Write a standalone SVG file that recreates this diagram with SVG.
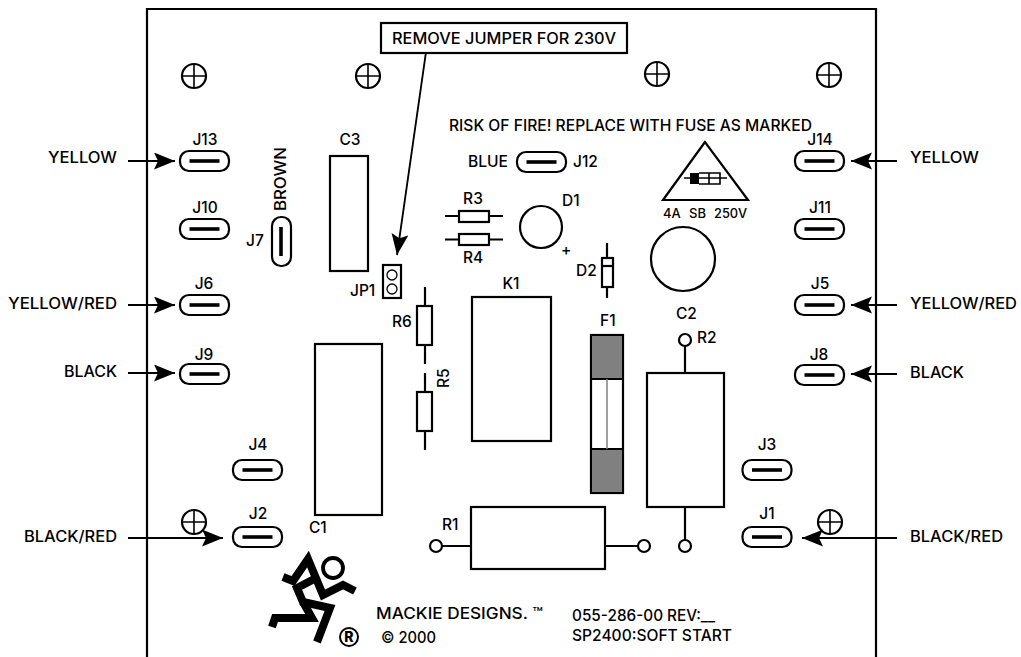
<svg xmlns="http://www.w3.org/2000/svg" width="1021" height="657" viewBox="0 0 1021 657">
<style>
text{font-family:"Inter","Open Sans","Liberation Sans",sans-serif;font-size:15.5px;fill:#000;font-weight:500}
.m{text-anchor:middle}
.o{fill:#fff;stroke:#000;stroke-width:2.2}
.n{fill:none;stroke:#000;stroke-width:2.2}
.t{fill:none;stroke:#000;stroke-width:1.3}
.b{stroke:#000;stroke-width:3.6;stroke-linecap:butt}
.a{stroke:#000;stroke-width:1.8;fill:none;marker-end:url(#h)}
.l{fill:none;stroke:#000;stroke-width:8;stroke-linejoin:miter}
</style>
<defs>
<marker id="h" markerUnits="userSpaceOnUse" markerWidth="22" markerHeight="18" refX="21" refY="8.500" orient="auto"><path d="M0 0 L21 8.500 L0 17 L4 8.500 Z" fill="#000"/></marker>
<g id="pad"><rect x="-24.500" y="-10" width="49" height="20" rx="9" class="o"/><line x1="-15" x2="15" y1="0" y2="0" class="b"/></g>
<g id="scr"><circle r="12" class="n"/><path d="M-12 0H12M0-12V12" class="n" style="stroke-width:1.600"/></g>
</defs>
<rect width="1021" height="657" fill="#fff"/>
<g id="board"><path d="M147 657V9H876V657" fill="none" stroke="#000" stroke-width="2.2"/></g>
<g id="screws"><use href="#scr" x="194" y="76"/><use href="#scr" x="368" y="76"/><use href="#scr" x="657" y="74"/><use href="#scr" x="829" y="75"/><use href="#scr" x="194" y="522"/><use href="#scr" x="830" y="522"/></g>
<g id="connectors">
<path class="a" d="M128 161H175"/><path class="a" d="M128 305H175"/><path class="a" d="M128 373H175"/><path class="a" d="M128 538H223"/>
<path class="a" d="M897 161H851"/><path class="a" d="M897 305H851"/><path class="a" d="M897 374H851"/><path class="a" d="M897 538H802"/>
<path class="a" d="M426 52L397 255"/>
</g>
<g id="callout"><rect x="381" y="23" width="246" height="30" class="o"/><text x="392" y="44" textLength="224" lengthAdjust="spacingAndGlyphs">REMOVE JUMPER FOR 230V</text></g>
<g id="J13"><use href="#pad" x="204.500" y="161"/><text x="205" y="145" class="m">J13</text></g>
<g id="J10"><use href="#pad" x="204.500" y="229"/><text x="205" y="213" class="m">J10</text></g>
<g id="J6"><use href="#pad" x="204.500" y="305"/><text x="204" y="289" class="m">J6</text></g>
<g id="J9"><use href="#pad" x="204.500" y="374"/><text x="204" y="360" class="m">J9</text></g>
<g id="J4"><use href="#pad" x="257.500" y="470"/><text x="258" y="450" class="m">J4</text></g>
<g id="J2"><use href="#pad" x="257.500" y="537"/><text x="258" y="519" class="m">J2</text></g>
<g id="J14"><use href="#pad" x="819.500" y="161"/><text x="820" y="145" class="m">J14</text></g>
<g id="J11"><use href="#pad" x="819.500" y="229"/><text x="820" y="213" class="m">J11</text></g>
<g id="J5"><use href="#pad" x="819.500" y="305"/><text x="820" y="289" class="m">J5</text></g>
<g id="J8"><use href="#pad" x="819.500" y="375"/><text x="819" y="360" class="m">J8</text></g>
<g id="J3"><use href="#pad" x="767" y="470"/><text x="767" y="450" class="m">J3</text></g>
<g id="J1"><use href="#pad" x="767" y="537"/><text x="767" y="519" class="m">J1</text></g>
<g id="J12"><use href="#pad" x="541.500" y="162"/><text x="573" y="167">J12</text><text x="468" y="167" textLength="40" lengthAdjust="spacingAndGlyphs">BLUE</text></g>
<g id="J7"><rect x="272" y="217" width="19" height="49" rx="9" class="o"/><line x1="281" x2="281" y1="227" y2="256" class="b"/><text x="246" y="246">J7</text><text transform="translate(286 211) rotate(-90)" textLength="64" lengthAdjust="spacingAndGlyphs">BROWN</text></g>
<g id="labels">
<text x="48" y="163" textLength="69" lengthAdjust="spacingAndGlyphs">YELLOW</text><text x="8" y="309" textLength="109" lengthAdjust="spacingAndGlyphs">YELLOW/RED</text><text x="64" y="377" textLength="53" lengthAdjust="spacingAndGlyphs">BLACK</text><text x="24" y="542" textLength="93" lengthAdjust="spacingAndGlyphs">BLACK/RED</text>
<text x="910" y="163" textLength="69" lengthAdjust="spacingAndGlyphs">YELLOW</text><text x="910" y="309" textLength="107" lengthAdjust="spacingAndGlyphs">YELLOW/RED</text><text x="910" y="378" textLength="54" lengthAdjust="spacingAndGlyphs">BLACK</text><text x="910" y="542" textLength="93" lengthAdjust="spacingAndGlyphs">BLACK/RED</text>
<text x="449" y="131" textLength="363" lengthAdjust="spacingAndGlyphs">RISK OF FIRE! REPLACE WITH FUSE AS MARKED</text>
</g>
<g id="C3"><rect x="330" y="156" width="38" height="115" class="o"/><text x="350" y="145" class="m">C3</text></g>
<g id="JP1"><rect x="383" y="265" width="18" height="33" class="o"/><circle cx="392" cy="275" r="5" class="t"/><circle cx="392" cy="289" r="5" class="t"/><text x="350" y="296">JP1</text></g>
<g id="R3"><path d="M445 216H503" class="n"/><rect x="459" y="211" width="30" height="11" class="o"/><text x="473" y="204" class="m">R3</text></g>
<g id="R4"><path d="M445 239.500H503" class="n"/><rect x="459" y="234" width="30" height="11" class="o"/><text x="473" y="263" class="m">R4</text></g>
<g id="D1"><circle cx="541" cy="227" r="21" class="o"/><text x="562" y="206">D1</text><text x="561" y="255">+</text></g>
<g id="D2"><path d="M607 243V298" class="n"/><rect x="602" y="258" width="11" height="29" class="o"/><path d="M602 266H613" class="n"/><text x="576" y="276">D2</text></g>
<g id="bigcircle"><circle cx="683" cy="259" r="32" class="o"/></g>
<g id="fuseicon"><path d="M705 142L663 200H748Z" class="n"/><path d="M684 178H727" class="n" style="stroke-width:1.600"/><rect x="690" y="173" width="9" height="11"/><path d="M699 173H720V184H699M709 173V184" class="n" style="stroke-width:1.600"/><text x="663" y="218" style="font-size:13px">4A</text><text x="689" y="218" style="font-size:13px">SB</text><text x="714" y="218" style="font-size:13px" textLength="33" lengthAdjust="spacingAndGlyphs">250V</text></g>
<g id="K1"><rect x="472" y="297" width="79" height="144" class="o"/><text x="511" y="289" class="m">K1</text></g>
<g id="R6"><path d="M425 287V364" class="n"/><rect x="417" y="306" width="15" height="39" class="o"/><text x="392" y="327">R6</text></g>
<g id="R5"><path d="M425 373V450" class="n"/><rect x="417" y="392" width="15" height="39" class="o"/><text transform="translate(449 388) rotate(-90)">R5</text></g>
<g id="F1"><rect x="591" y="335" width="32" height="158" class="o"/><rect x="591" y="335" width="32" height="44" fill="#808080" stroke="#000" stroke-width="2"/><rect x="591" y="449" width="32" height="44" fill="#808080" stroke="#000" stroke-width="2"/><path d="M607 379V449" stroke="#808080" stroke-width="1.500"/><text x="600" y="326">F1</text></g>
<g id="C2"><path d="M685 346V373M685 507V540" class="n"/><circle cx="685" cy="340" r="6" class="o"/><circle cx="685" cy="546" r="6" class="o"/><rect x="647" y="373" width="77" height="134" class="o"/><text x="676" y="319">C2</text><text x="697" y="343">R2</text></g>
<g id="C1"><rect x="315" y="344" width="67" height="171" class="o"/><text x="309" y="533">C1</text></g>
<g id="R1"><path d="M442 546H638" class="n"/><circle cx="436" cy="546" r="6" class="o"/><circle cx="644" cy="546" r="6" class="o"/><rect x="471" y="507" width="134" height="62" class="o"/><text x="442" y="530">R1</text></g>
<g id="logo"><circle cx="333" cy="568" r="10" class="n" style="stroke-width:3.800"/><path class="l" d="M283 577L293 581L308 559L323 595L343 585L355 591"/><path class="l" d="M318 577L297 588L303 602L330 608L317 642"/><path class="l" d="M303 602L312 618H275L272 627"/><circle cx="349" cy="637" r="9" fill="none" stroke="#000" stroke-width="2"/><text x="349" y="642" class="m" style="font-size:14px;font-weight:800">R</text></g>
<g id="footer"><text x="376" y="619" textLength="167" lengthAdjust="spacingAndGlyphs">MACKIE DESIGNS. ™</text><text x="381" y="643" textLength="55" lengthAdjust="spacingAndGlyphs">© 2000</text><text x="572" y="621" textLength="143" lengthAdjust="spacingAndGlyphs">055-286-00 REV:__</text><text x="572" y="641" textLength="160" lengthAdjust="spacingAndGlyphs">SP2400:SOFT START</text></g>
</svg>
